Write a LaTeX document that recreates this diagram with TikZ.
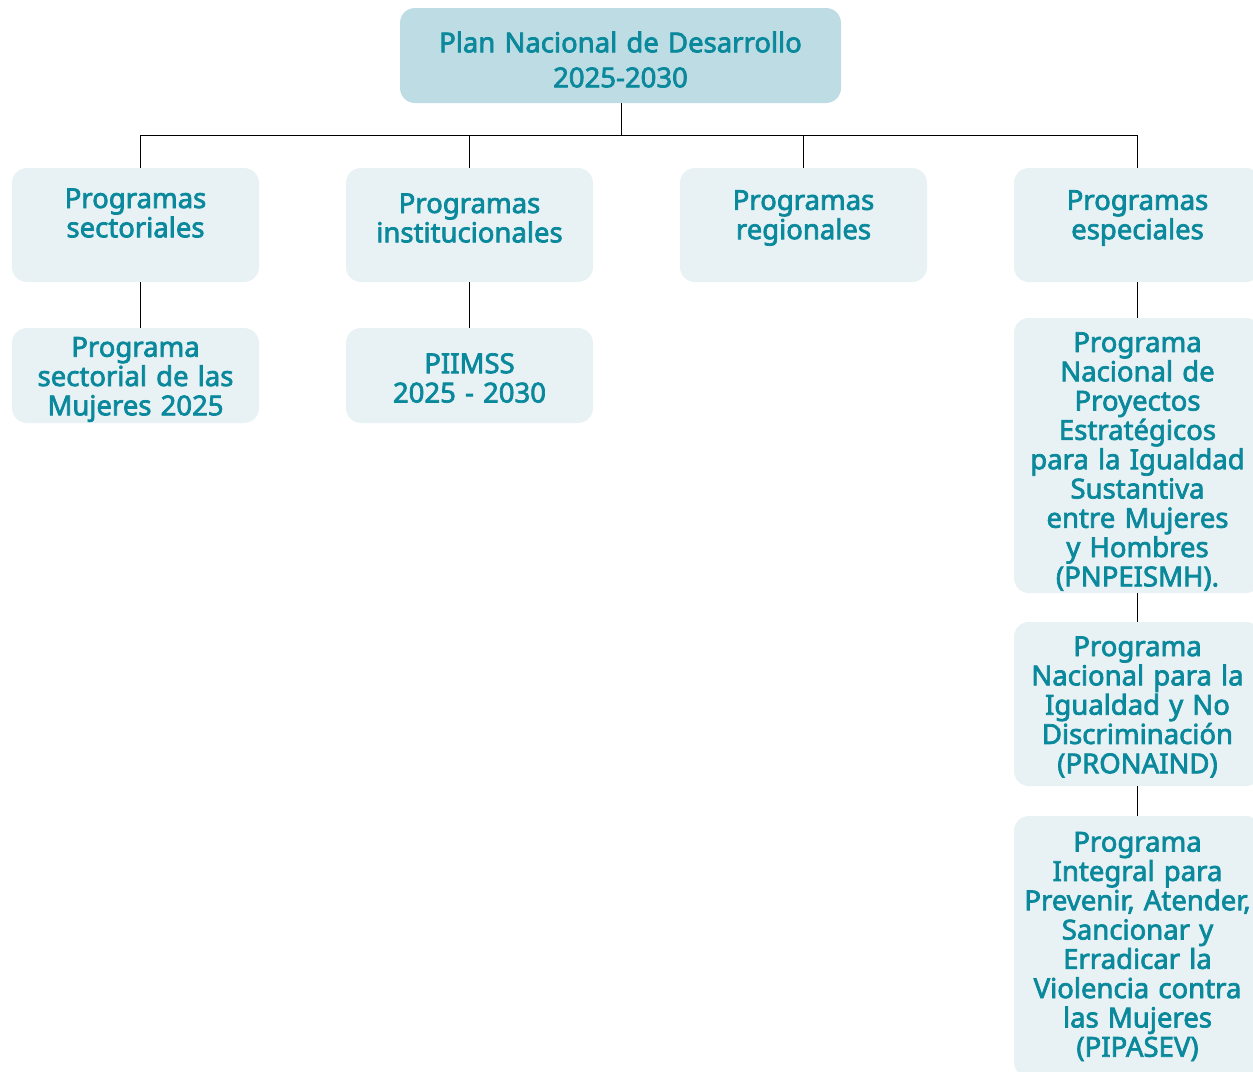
\documentclass[tikz,border=0pt]{standalone}
\usepackage{fontspec}
\setmainfont{Noto Sans}[AutoFakeBold=2.6]
\definecolor{tealtxt}{HTML}{0B899C}
\definecolor{cajaplan}{HTML}{BEDCE3}
\definecolor{cajaprog}{HTML}{E8F2F5}
\newcommand{\finnodo}[1]{\endgraf\vspace*{#1}}
\begin{document}
\begin{tikzpicture}[x=1pt, y=-1pt,
    caja/.style={rectangle, rounded corners=15pt, fill=cajaprog, inner sep=0pt,
        minimum width=247pt, text width=245pt, align=center, text=tealtxt,
        font=\fontsize{27.5}{29.3}\selectfont\bfseries},
    sube/.style={execute at end node={\finnodo{#1}}},
    linea/.style={line width=1pt, black}]

    \useasboundingbox (0,0) rectangle (1253,1071);

    % -- Nivel superior: Plan Nacional --
    \node[caja, sube=-8pt, fill=cajaplan, minimum width=441pt, text width=430pt, minimum height=95pt,
          font=\fontsize{27.5}{35}\selectfont\bfseries] (plan) at (620.5,55.5)
          {Plan Nacional de Desarrollo\\2025-2030};

    % -- Tipos de programas --
    \node[caja, sube=24pt, minimum height=114pt] (sect) at (135.5,225) {Programas\\sectoriales};
    \node[caja, sube=14pt, minimum height=114pt] (inst) at (469.5,225) {Programas\\institucionales};
    \node[caja, sube=14pt, minimum height=114pt] (reg) at (803.5,225) {Programas\\regionales};
    \node[caja, sube=14pt, minimum height=114pt] (esp) at (1137.5,225) {Programas\\especiales};

    % -- Programas concretos --
    \node[caja, sube=-8pt, minimum height=95pt] (mujeres) at (135.5,375.5) {Programa\\sectorial de las\\Mujeres 2025};
    \node[caja, sube=-5pt, minimum height=95pt] (piimss) at (469.5,375.5) {PIIMSS\\2025 - 2030};

    \node[caja, sube=-12pt, minimum height=275pt] (pnpeismh) at (1137.5,455.5)
        {Programa\\Nacional de\\Proyectos\\Estratégicos\\para la Igualdad\\Sustantiva\\entre Mujeres\\y Hombres\\(PNPEISMH).};
    \node[caja, sube=-6pt, minimum height=164pt] (pronaind) at (1137.5,704)
        {Programa\\Nacional para la\\Igualdad y No\\Discriminación\\(PRONAIND)};
    \node[caja, minimum height=261pt] (pipasev) at (1137.5,946.5)
        {Programa\\Integral para\\Prevenir, Atender,\\Sancionar y\\Erradicar la\\Violencia contra\\las Mujeres\\(PIPASEV)};

    % -- Conectores --
    \coordinate (bus) at (621,135);
    \draw[linea] (plan.south -| bus) -- (bus);
    \draw[linea] (bus) -| ([xshift=4.5pt]sect.north);
    \draw[linea] (bus) -| (inst.north);
    \draw[linea] (bus) -| (reg.north);
    \draw[linea] (bus) -| (esp.north);

    \draw[linea] ([xshift=4.5pt]sect.south) -- ([xshift=4.5pt]mujeres.north);
    \draw[linea] (inst) -- (piimss);
    \draw[linea] (esp) -- (pnpeismh);
    \draw[linea] (pnpeismh) -- (pronaind);
    \draw[linea] (pronaind) -- (pipasev);

\end{tikzpicture}
\end{document}
